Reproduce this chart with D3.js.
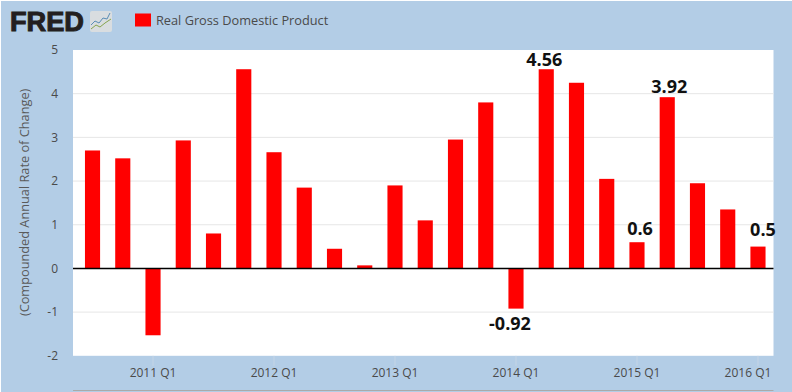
<!DOCTYPE html>
<html>
<head>
<meta charset="utf-8">
<script src="https://cdn.jsdelivr.net/npm/d3@7"></script>
<style>
  html, body { margin: 0; padding: 0; background: #fff; }
  svg { display: block; font-family: "Open Sans", sans-serif; }
</style>
</head>
<body>
<div id="chart"></div>
<script>
const quarters = ['2010 Q3','2010 Q4','2011 Q1','2011 Q2','2011 Q3','2011 Q4','2012 Q1','2012 Q2','2012 Q3','2012 Q4','2013 Q1','2013 Q2','2013 Q3','2013 Q4','2014 Q1','2014 Q2','2014 Q3','2014 Q4','2015 Q1','2015 Q2','2015 Q3','2015 Q4','2016 Q1'];
const gdp = [2.7, 2.52, -1.53, 2.93, 0.8, 4.56, 2.66, 1.85, 0.45, 0.07, 1.9, 1.1, 2.95, 3.8, -0.92, 4.56, 4.25, 2.05, 0.6, 3.92, 1.95, 1.35, 0.5];
const xTicks = ['2011 Q1','2012 Q1','2013 Q1','2014 Q1','2015 Q1','2016 Q1'];
const yTicks = [-2, -1, 0, 1, 2, 3, 4, 5];
const callouts = ['2014 Q1','2014 Q2','2015 Q1','2015 Q2','2016 Q1'];

const width = 792;
const height = 392;
const plot = { left: 73, right: 773.5, top: 50, bottom: 355.8 };

const svg = d3.select('#chart').append('svg')
  .attr('width', width)
  .attr('height', height);

// Background and plot area (the screenshot has a 1px pale edge top and left)
svg.append('rect').attr('x', 1).attr('y', 1).attr('width', width).attr('height', height).attr('fill', '#b3cde6');
svg.append('rect')
  .attr('x', plot.left).attr('y', plot.top)
  .attr('width', plot.right - plot.left).attr('height', plot.bottom - plot.top)
  .attr('fill', '#fff');

const xScale = d3.scaleBand()
  .domain(quarters)
  .range([77.4, 773.1])
  .paddingInner(0.5)
  .paddingOuter(0.25);

const yScale = d3.scaleLinear()
  .domain([-2, 5])
  .range([plot.bottom, plot.top]);

// Gridlines
svg.append('g').selectAll('line')
  .data(yTicks.filter(d => d !== 5 && d !== -2 && d !== 0))
  .join('line')
  .attr('x1', plot.left).attr('x2', plot.right)
  .attr('y1', d => yScale(d)).attr('y2', d => yScale(d))
  .attr('stroke', '#e6e6e6');

// Y axis labels
const yAxis = svg.append('g')
  .attr('transform', `translate(${plot.left}, 0)`)
  .call(d3.axisLeft(yScale).tickValues(yTicks).tickSize(0).tickPadding(15).tickFormat(d => String(d)));
yAxis.select('.domain').remove();
yAxis.selectAll('text')
  .attr('font-family', '"Open Sans", sans-serif')
  .attr('font-size', 12)
  .attr('fill', '#4a4a4a');

svg.append('text')
  .attr('transform', `translate(29, ${(plot.top + plot.bottom) / 2 - 0.5}) rotate(-90)`)
  .attr('text-anchor', 'middle')
  .attr('font-size', 12.75)
  .attr('fill', '#5a5a5a')
  .text('(Compounded Annual Rate of Change)');

// X axis
const xAxis = svg.append('g')
  .attr('transform', `translate(0, ${plot.bottom})`)
  .call(d3.axisBottom(xScale).tickValues(xTicks).tickSize(10).tickPadding(3));
xAxis.select('.domain').remove();
xAxis.selectAll('line').attr('stroke', '#c5d5e6');
xAxis.selectAll('text')
  .attr('font-family', '"Open Sans", sans-serif')
  .attr('font-size', 12)
  .attr('fill', '#4a4a4a')
  .attr('dx', d => d === '2016 Q1' ? -10 : 0); // last label is pulled inside the plot edge

// Bars
svg.append('g').selectAll('rect')
  .data(quarters)
  .join('rect')
  .attr('x', d => xScale(d))
  .attr('width', xScale.bandwidth())
  .attr('y', (d, i) => yScale(Math.max(0, gdp[i])))
  .attr('height', (d, i) => Math.abs(yScale(gdp[i]) - yScale(0)))
  .attr('fill', '#ff0000');

// Zero line
svg.append('line')
  .attr('x1', plot.left).attr('x2', plot.right)
  .attr('y1', yScale(0)).attr('y2', yScale(0))
  .attr('stroke', '#000').attr('stroke-width', 1.5);

// Value callouts, hand placed on the original so they sit a bit off the bars
const calloutNudge = {
  '2014 Q1': [-6, 21],
  '2014 Q2': [-2, -3],
  '2015 Q1': [3, -7],
  '2015 Q2': [2, -4],
  '2016 Q1': [5, -11]
};
svg.append('g').selectAll('text')
  .data(callouts)
  .join('text')
  .attr('x', d => xScale(d) + xScale.bandwidth() / 2 + calloutNudge[d][0])
  .attr('y', d => yScale(gdp[quarters.indexOf(d)]) + calloutNudge[d][1])
  .attr('text-anchor', 'middle')
  .attr('font-size', 18)
  .attr('font-weight', 700)
  .attr('fill', '#111')
  .text(d => gdp[quarters.indexOf(d)]);

// Legend
svg.append('rect')
  .attr('x', 135).attr('y', 13.5)
  .attr('width', 16).attr('height', 13)
  .attr('fill', '#ff0000');
svg.append('text')
  .attr('x', 156).attr('y', 25)
  .attr('font-size', 12.75)
  .attr('fill', '#4a4a4a')
  .text('Real Gross Domestic Product');

// FRED logo
svg.append('text')
  .attr('x', 10).attr('y', 31)
  .attr('font-family', '"Liberation Sans", sans-serif')
  .attr('font-size', 27)
  .attr('font-weight', 700)
  .attr('textLength', 74)
  .attr('lengthAdjust', 'spacingAndGlyphs')
  .attr('fill', '#231f20')
  .attr('stroke', '#231f20')
  .attr('stroke-width', 1)
  .text('FRED');

const logo = svg.append('g');
logo.append('rect')
  .attr('x', 90).attr('y', 11).attr('width', 22).attr('height', 21).attr('rx', 2)
  .attr('fill', '#d9dde0');
const logoLine = d3.line();
logo.append('path')
  .attr('d', logoLine([[91, 25], [95, 21], [99, 23], [103, 18], [107, 19], [110, 13]]))
  .attr('fill', 'none').attr('stroke', '#5a8db5');
logo.append('path')
  .attr('d', logoLine([[91, 29], [96, 25], [100, 27], [105, 23], [111, 19]]))
  .attr('fill', 'none').attr('stroke', '#86a44e');

// Navigator remnant along the bottom
svg.append('line')
  .attr('x1', plot.left).attr('x2', plot.right)
  .attr('y1', 390.5).attr('y2', 390.5)
  .attr('stroke', '#aaa');
</script>
</body>
</html>
